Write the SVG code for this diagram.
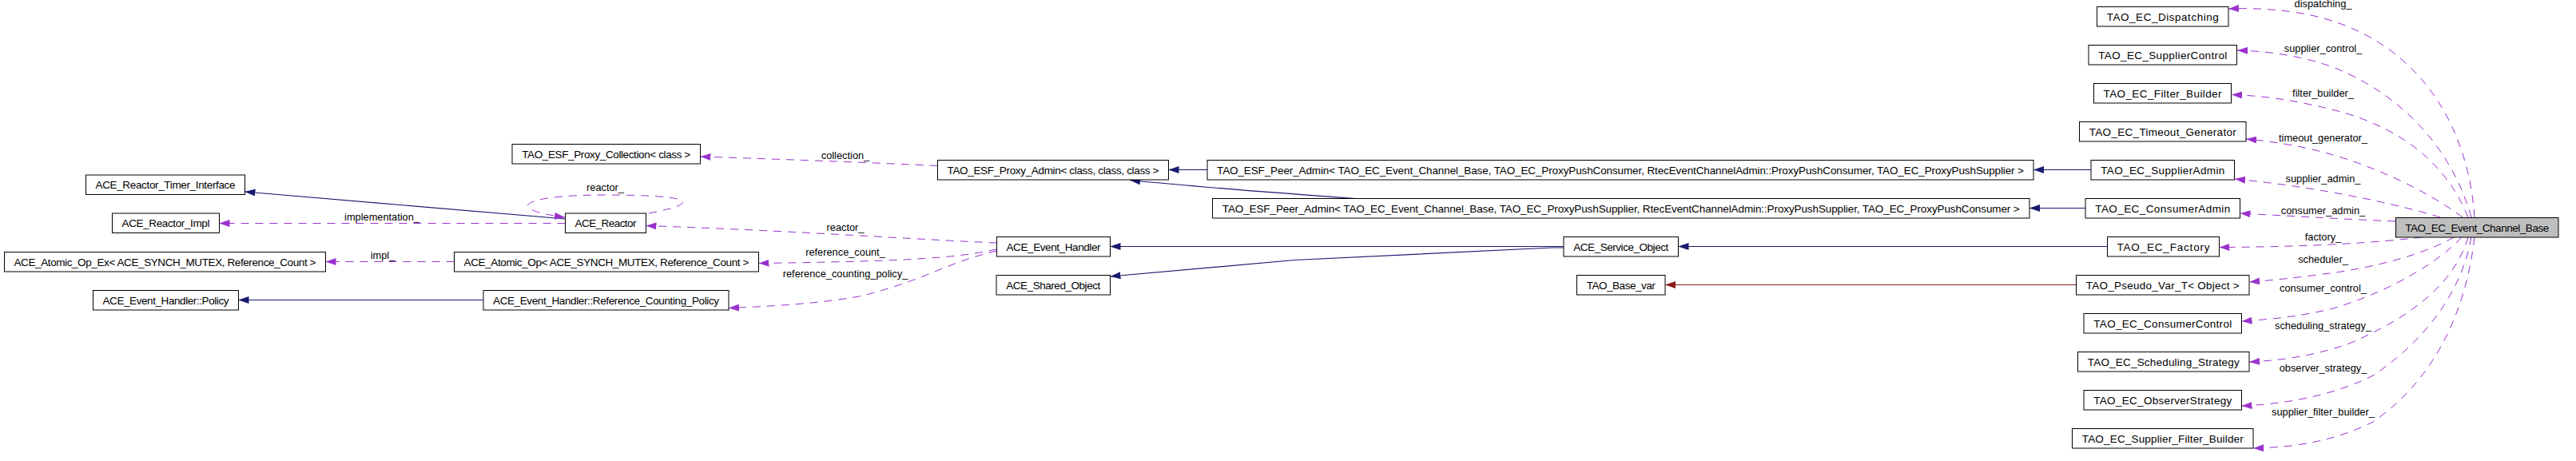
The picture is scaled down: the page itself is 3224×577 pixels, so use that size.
<svg xmlns="http://www.w3.org/2000/svg" width="3224" height="577" viewBox="0 0 3224 577">
<style>
.n rect{fill:#fff;stroke:#000;stroke-width:1}
.n.main rect{fill:#bfbfbf}
text{font-family:"Liberation Sans",Arial,sans-serif;font-size:13.5px;fill:#000;text-anchor:middle}
text.lbl{font-size:12.8px}
.inh{stroke:#191970;stroke-width:1.2;fill:none;marker-end:url(#an)}
.tpl{stroke:#8b1a1a;stroke-width:1.2;fill:none;marker-end:url(#ar)}
.use{stroke:#9a32cd;stroke-width:1;fill:none;stroke-dasharray:10,8;marker-end:url(#ap)}
</style>
<defs>
<marker id="an" markerUnits="userSpaceOnUse" markerWidth="13" markerHeight="9" viewBox="0 0 13 9" refX="13" refY="4.5" orient="auto"><path d="M0,0 L13,4.5 L0,9 z" fill="#191970"/></marker>
<marker id="ar" markerUnits="userSpaceOnUse" markerWidth="13" markerHeight="9" viewBox="0 0 13 9" refX="13" refY="4.5" orient="auto"><path d="M0,0 L13,4.5 L0,9 z" fill="#8b1a1a"/></marker>
<marker id="ap" markerUnits="userSpaceOnUse" markerWidth="13" markerHeight="9" viewBox="0 0 13 9" refX="13" refY="4.5" orient="auto"><path d="M0,0 L13,4.5 L0,9 z" fill="#9a32cd"/></marker>
</defs>
<rect width="3224" height="577" fill="#fff"/>

<g id="edges">
<path class="inh" d="M707.5,274 L306.5,240"/>
<path class="inh" d="M1511,212.5 L1462.5,212.5"/>
<path class="inh" d="M1697,248.5 C1620,243 1500,234 1414,225.5"/>
<path class="inh" d="M1957,308.5 L1389.5,308.5"/>
<path class="inh" d="M1957,310 L1942,310 L1620,325.5 L1389.5,346"/>
<path class="inh" d="M2617,212.5 L2545,212.5"/>
<path class="inh" d="M2610,260.5 L2540,260.5"/>
<path class="inh" d="M2637.5,308.5 L2100.5,308.5"/>
<path class="tpl" d="M2598.5,356.5 L2084,356.5"/>
<path class="inh" d="M605,375.5 L298.5,375.5"/>

<path class="use" d="M707.5,279.5 L274.5,279.5"/>
<text class="lbl" x="478" y="275.5">implementation_</text>
<path class="use" d="M812,267 C880,254 870,244 757,244 C650,244 630,262 707,272"/>
<text class="lbl" x="757.5" y="239">reactor_</text>
<path class="use" d="M1247.5,304 C1150,300 1000,289 808.5,282.5"/>
<text class="lbl" x="1058" y="289">reactor_</text>
<path class="use" d="M1173.5,207.5 C1100,204 1000,200 876.5,196"/>
<text class="lbl" x="1058" y="199">collection_</text>
<path class="use" d="M568.5,327.5 L407.5,327.5"/>
<text class="lbl" x="479" y="324">impl_</text>
<path class="use" d="M1247.5,312 C1200,322 1150,327 949.5,329.5"/>
<text class="lbl" x="1058" y="319.5">reference_count_</text>
<path class="use" d="M1247.5,314 C1180,330 1165,348 1080,370 C1040,378 980,383 912,385.5"/>
<text class="lbl" x="1058" y="346.5">reference_counting_policy_</text>

<path class="use" d="M3097,272 C3088,140 3010,35 2870,15 C2840,11 2815,10 2789,11"/>
<text class="lbl" x="2907.5" y="9">dispatching_</text>
<path class="use" d="M3093,272 C3070,190 3010,120 2920,84 C2880,70 2840,64 2800,63"/>
<text class="lbl" x="2907.5" y="65">supplier_control_</text>
<path class="use" d="M3089,272 C3060,200 3000,160 2930,140 C2880,127 2840,120 2793,118.5"/>
<text class="lbl" x="2907.5" y="120.5">filter_builder_</text>
<path class="use" d="M3082,272 C3040,240 2960,200 2880,184 C2860,180 2835,176 2811,174"/>
<text class="lbl" x="2907.5" y="176.5">timeout_generator_</text>
<path class="use" d="M3054,272 C3000,255 2900,234 2797,224"/>
<text class="lbl" x="2907.5" y="227.5">supplier_admin_</text>
<path class="use" d="M2998,277 C2930,274 2860,270 2803.5,267"/>
<text class="lbl" x="2907.5" y="267.5">consumer_admin_</text>
<path class="use" d="M3031,297 C2980,303 2900,309 2777.5,309.5"/>
<text class="lbl" x="2907.5" y="300.5">factory_</text>
<path class="use" d="M3071,297 C3040,315 2980,335 2900,344 C2870,348 2840,351 2815,353"/>
<text class="lbl" x="2907.5" y="328.5">scheduler_</text>
<path class="use" d="M3081,297 C3050,330 2990,365 2920,386 C2880,396 2840,400 2805.5,402"/>
<text class="lbl" x="2907.5" y="364.5">consumer_control_</text>
<path class="use" d="M3089,297 C3070,360 3010,400 2940,430 C2900,444 2860,451 2815,453"/>
<text class="lbl" x="2907.5" y="411.5">scheduling_strategy_</text>
<path class="use" d="M3093,297 C3080,370 3030,430 2970,470 C2920,495 2860,506 2805.5,508"/>
<text class="lbl" x="2907.5" y="464.5">observer_strategy_</text>
<path class="use" d="M3097,297 C3085,400 3040,480 2970,528 C2920,553 2870,560 2820,561"/>
<text class="lbl" x="2907.5" y="519.5">supplier_filter_builder_</text>
</g>

<g id="n1" class="n"><rect x="107.5" y="219" width="199" height="24.5"/><text x="207" y="236" textLength="175">ACE_Reactor_Timer_Interface</text></g>
<g id="n2" class="n"><rect x="140.5" y="267" width="134" height="24.5"/><text x="207.5" y="284" textLength="110">ACE_Reactor_Impl</text></g>
<g id="n3" class="n"><rect x="5.5" y="315.5" width="402" height="24.5"/><text x="206.5" y="332.5" textLength="378">ACE_Atomic_Op_Ex&lt; ACE_SYNCH_MUTEX, Reference_Count &gt;</text></g>
<g id="n4" class="n"><rect x="116.5" y="363.5" width="182" height="24.5"/><text x="207.5" y="380.5" textLength="158">ACE_Event_Handler::Policy</text></g>
<g id="n5" class="n"><rect x="641" y="180.5" width="235.5" height="24.5"/><text x="758.75" y="197.5" textLength="211">TAO_ESF_Proxy_Collection&lt; class &gt;</text></g>
<g id="n6" class="n"><rect x="707.5" y="267" width="101" height="24.5"/><text x="758" y="284" textLength="77">ACE_Reactor</text></g>
<g id="n7" class="n"><rect x="568.5" y="315.5" width="381" height="24.5"/><text x="759" y="332.5" textLength="357">ACE_Atomic_Op&lt; ACE_SYNCH_MUTEX, Reference_Count &gt;</text></g>
<g id="n8" class="n"><rect x="605" y="363.5" width="307" height="24.5"/><text x="758.5" y="380.5" textLength="283">ACE_Event_Handler::Reference_Counting_Policy</text></g>
<g id="n9" class="n"><rect x="1173.5" y="200.5" width="289" height="24.5"/><text x="1318" y="217.5" textLength="265">TAO_ESF_Proxy_Admin&lt; class, class, class &gt;</text></g>
<g id="n10" class="n"><rect x="1247.5" y="296.5" width="142" height="24.5"/><text x="1318.5" y="313.5" textLength="118">ACE_Event_Handler</text></g>
<g id="n11" class="n"><rect x="1247" y="344.5" width="142.5" height="24.5"/><text x="1318.25" y="361.5" textLength="118">ACE_Shared_Object</text></g>
<g id="n12" class="n"><rect x="1511" y="200.5" width="1034" height="24.5"/><text x="2028" y="217.5" textLength="1010">TAO_ESF_Peer_Admin&lt; TAO_EC_Event_Channel_Base, TAO_EC_ProxyPushConsumer, RtecEventChannelAdmin::ProxyPushConsumer, TAO_EC_ProxyPushSupplier &gt;</text></g>
<g id="n13" class="n"><rect x="1517.5" y="248.5" width="1022.5" height="24.5"/><text x="2028.75" y="265.5" textLength="998">TAO_ESF_Peer_Admin&lt; TAO_EC_Event_Channel_Base, TAO_EC_ProxyPushSupplier, RtecEventChannelAdmin::ProxyPushSupplier, TAO_EC_ProxyPushConsumer &gt;</text></g>
<g id="n14" class="n"><rect x="1957" y="296.5" width="143.5" height="24.5"/><text x="2028.75" y="313.5" textLength="119">ACE_Service_Object</text></g>
<g id="n15" class="n"><rect x="1973.5" y="344.5" width="110.5" height="24.5"/><text x="2028.75" y="361.5" textLength="86">TAO_Base_var</text></g>
<g id="n16" class="n"><rect x="2624.5" y="8.5" width="164.5" height="24.5"/><text x="2706.75" y="25.5" textLength="140">TAO_EC_Dispatching</text></g>
<g id="n17" class="n"><rect x="2614" y="56.5" width="185.5" height="24.5"/><text x="2706.75" y="73.5" textLength="161">TAO_EC_SupplierControl</text></g>
<g id="n18" class="n"><rect x="2620.5" y="104.5" width="172" height="24.5"/><text x="2706.5" y="121.5" textLength="148">TAO_EC_Filter_Builder</text></g>
<g id="n19" class="n"><rect x="2602.5" y="152.5" width="208.5" height="24.5"/><text x="2706.75" y="169.5" textLength="184">TAO_EC_Timeout_Generator</text></g>
<g id="n20" class="n"><rect x="2617" y="200.5" width="179.5" height="24.5"/><text x="2706.75" y="217.5" textLength="155">TAO_EC_SupplierAdmin</text></g>
<g id="n21" class="n"><rect x="2610" y="248.5" width="193.5" height="24.5"/><text x="2706.75" y="265.5" textLength="169">TAO_EC_ConsumerAdmin</text></g>
<g id="n22" class="n main"><rect x="2998.5" y="272.5" width="203.5" height="24.5"/><text x="3100.25" y="289.5" textLength="180">TAO_EC_Event_Channel_Base</text></g>
<g id="n23" class="n"><rect x="2637.5" y="296.5" width="140" height="24.5"/><text x="2707.5" y="313.5" textLength="116">TAO_EC_Factory</text></g>
<g id="n24" class="n"><rect x="2598.5" y="344.5" width="216.5" height="24.5"/><text x="2706.75" y="361.5" textLength="192">TAO_Pseudo_Var_T&lt; Object &gt;</text></g>
<g id="n25" class="n"><rect x="2608" y="392.5" width="197.5" height="24.5"/><text x="2706.75" y="409.5" textLength="173">TAO_EC_ConsumerControl</text></g>
<g id="n26" class="n"><rect x="2600.5" y="440.5" width="214.5" height="24.5"/><text x="2707.75" y="457.5" textLength="190">TAO_EC_Scheduling_Strategy</text></g>
<g id="n27" class="n"><rect x="2608" y="488.5" width="197.5" height="24.5"/><text x="2706.75" y="505.5" textLength="173">TAO_EC_ObserverStrategy</text></g>
<g id="n28" class="n"><rect x="2593.5" y="536.5" width="226.5" height="24.5"/><text x="2706.75" y="553.5" textLength="202">TAO_EC_Supplier_Filter_Builder</text></g>
</svg>
